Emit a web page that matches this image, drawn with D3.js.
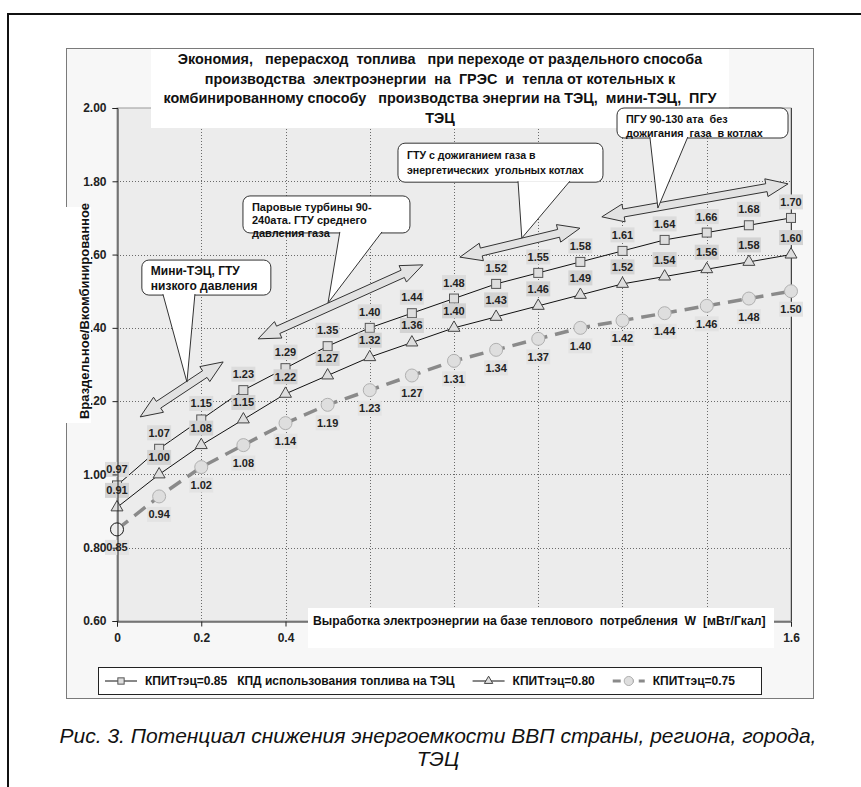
<!DOCTYPE html>
<html>
<head>
<meta charset="utf-8">
<script src="https://cdn.jsdelivr.net/npm/d3@7"></script>
<style>
  body { margin: 0; background: #fff; }
  text { font-family: "Liberation Sans", Arial, sans-serif; }
</style>
</head>
<body>
<script>
// Chart data
var xValues = [0, 0.1, 0.2, 0.3, 0.4, 0.5, 0.6, 0.7, 0.8, 0.9, 1.0, 1.1, 1.2, 1.3, 1.4, 1.5, 1.6];
var kpit85 = [0.97, 1.07, 1.15, 1.23, 1.29, 1.35, 1.40, 1.44, 1.48, 1.52, 1.55, 1.58, 1.61, 1.64, 1.66, 1.68, 1.70];
var kpit80 = [0.91, 1.00, 1.08, 1.15, 1.22, 1.27, 1.32, 1.36, 1.40, 1.43, 1.46, 1.49, 1.52, 1.54, 1.56, 1.58, 1.60];
var kpit75 = [0.85, 0.94, 1.02, 1.08, 1.14, 1.19, 1.23, 1.27, 1.31, 1.34, 1.37, 1.40, 1.42, 1.44, 1.46, 1.48, 1.50];
var seriesNames = ["КПИТтэц=0.85   КПД использования топлива на ТЭЦ", "КПИТтэц=0.80", "КПИТтэц=0.75"];
var yTicks = [0.6, 0.8, 1.0, 1.2, 1.4, 1.6, 1.8, 2.0];
var xTicks = [0, 0.2, 0.4, 0.6, 0.8, 1.0, 1.2, 1.4, 1.6];
var titleLines = [
  "Экономия,   перерасход  топлива   при переходе от раздельного способа",
  "производства  электроэнергии  на  ГРЭС  и  тепла от котельных к",
  "комбинированному способу   производства энергии на ТЭЦ,  мини-ТЭЦ,  ПГУ",
  "ТЭЦ"
];
var yTitle = "Враздельное/Вкомбинированное";
var xTitle = "Выработка электроэнергии на базе теплового  потребления  W  [мВт/Гкал]";
var captionLines = ["Рис. 3. Потенциал снижения энергоемкости ВВП страны, региона, города,", "ТЭЦ"];

// callout notes, anchored in data units (box corner, pointer tip, arrow ends)
var notes = [
  { lines: ["Мини-ТЭЦ, ГТУ", "низкого давления"], box: [0.059, 1.585], w: 129, h: 35, fs: 12, first: 11, step: 15,
    base: [0.109, 0.185], tip: [0.166, 1.252], arrow: [[0.055, 1.157], [0.252, 1.307]] },
  { lines: ["Паровые турбины 90-", "240ата. ГТУ среднего", "давления газа"], box: [0.299, 1.760], w: 167, h: 37, fs: 11, first: 11, step: 13,
    base: [0.529, 0.629], tip: [0.501, 1.468], arrow: [[0.335, 1.370], [0.726, 1.572]] },
  { lines: ["ГТУ с дожиганием газа в", "энергетических  угольных котлах"], box: [0.667, 1.904], w: 205, h: 39, fs: 10.6, first: 12, step: 15,
    base: [0.952, 1.075], tip: [0.961, 1.645], arrow: [[0.814, 1.593], [1.099, 1.672]] },
  { lines: ["ПГУ 90-130 ата  без", "дожигания  газа  в котлах"], box: [1.187, 2.0], w: 171, h: 30, fs: 10.8, first: 11, step: 14,
    base: [1.265, 1.355], tip: [1.284, 1.727], arrow: [[1.151, 1.703], [1.593, 1.793]] }
];

var W = 861, H = 787;
var plot = { left: 117, right: 791, top: 108, bottom: 621 };

var svg = d3.select("body").append("svg")
  .attr("width", W)
  .attr("height", H);

svg.append("rect").attr("width", W).attr("height", H).attr("fill", "#fff");

// outer frame (runs off the right and bottom edge)
svg.append("rect")
  .attr("x", 8).attr("y", 14).attr("width", 900).attr("height", 900)
  .attr("fill", "none").attr("stroke", "#111").attr("stroke-width", 2);

// chart area
svg.append("rect")
  .attr("x", 66.5).attr("y", 48.5).attr("width", 747).attr("height", 650)
  .attr("fill", "#f7f7f7").attr("stroke", "#7a7a7a");

var x = d3.scaleLinear().domain([0, 1.6]).range([plot.left, plot.right]);
var y = d3.scaleLinear().domain([0.6, 2.0]).range([plot.bottom, plot.top]);

// plot area
svg.append("rect")
  .attr("x", plot.left).attr("y", plot.top)
  .attr("width", plot.right - plot.left).attr("height", plot.bottom - plot.top)
  .attr("fill", "#ececec").attr("stroke", "#9a9a9a");

// gridlines
var grid = svg.append("g").attr("stroke", "#6a6a6a").attr("stroke-dasharray", "1,2").attr("stroke-width", 1);
grid.selectAll(".hg")
  .data(yTicks.filter(function(d) { return d > 0.6 && d < 2.0; }))
  .enter().append("line")
  .attr("x1", plot.left).attr("x2", plot.right)
  .attr("y1", function(d) { return Math.round(y(d)) + 0.5; })
  .attr("y2", function(d) { return Math.round(y(d)) + 0.5; });
grid.selectAll(".vg")
  .data(xTicks.filter(function(d) { return d > 0 && d < 1.6; }))
  .enter().append("line")
  .attr("y1", plot.top).attr("y2", plot.bottom)
  .attr("x1", function(d) { return Math.round(x(d)) + 0.5; })
  .attr("x2", function(d) { return Math.round(x(d)) + 0.5; });

// right border of the plot
svg.append("line")
  .attr("x1", plot.right + 0.5).attr("x2", plot.right + 0.5)
  .attr("y1", plot.top).attr("y2", plot.bottom)
  .attr("stroke", "#444");

var series = [
  { values: kpit85, marker: "square", dash: null, color: "#111", width: 1, lab: -16, labBg: "#dcdcdc" },
  { values: kpit80, marker: "triangle", dash: null, color: "#111", width: 1, lab: -17, labBg: "#d3d3d3" },
  { values: kpit75, marker: "circle", dash: "14,8", color: "#8a8a8a", width: 3.5, lab: 18, labBg: "#e3e3e3" }
];

var line = d3.line()
  .x(function(d, i) { return x(xValues[i]); })
  .y(function(d) { return y(d); });

function drawMarker(g, type, s) {
  if (type == "square") {
    g.append("rect").attr("x", -4.5 * s).attr("y", -4.5 * s).attr("width", 9 * s).attr("height", 9 * s)
      .attr("fill", "#dedede").attr("stroke", "#555");
  } else if (type == "triangle") {
    g.append("path").attr("d", d3.symbol().type(d3.symbolTriangle).size(62 * s * s)())
      .attr("fill", "#dedede").attr("stroke", "#444");
  } else {
    g.append("circle").attr("r", 6.5 * s).attr("fill", "#dedede").attr("stroke", "#b0b0b0");
  }
}

series.forEach(function(s) {
  svg.append("path")
    .datum(s.values)
    .attr("d", line)
    .attr("fill", "none")
    .attr("stroke", s.color)
    .attr("stroke-width", s.width)
    .attr("stroke-dasharray", s.dash);

  var pts = svg.append("g").selectAll("g")
    .data(s.values)
    .enter().append("g")
    .attr("transform", function(d, i) { return "translate(" + x(xValues[i]) + "," + y(d) + ")"; });
  pts.each(function() { drawMarker(d3.select(this), s.marker, 1); });
});

// the first circle is drawn with a dark outline in the source
svg.append("circle")
  .attr("cx", x(xValues[0])).attr("cy", y(kpit75[0])).attr("r", 6.5)
  .attr("fill", "#eeeeee").attr("stroke", "#222");

// value labels
series.forEach(function(s) {
  var lab = svg.append("g").selectAll("g")
    .data(s.values)
    .enter().append("g")
    .attr("transform", function(d, i) { return "translate(" + x(xValues[i]) + "," + (y(d) + s.lab) + ")"; });
  lab.append("rect")
    .attr("x", -12).attr("y", -7.5).attr("width", 24).attr("height", 15)
    .attr("fill", s.labBg);
  lab.append("text")
    .attr("text-anchor", "middle")
    .attr("dy", "0.36em")
    .attr("font-size", 11)
    .attr("font-weight", "bold")
    .attr("fill", "#222")
    .text(function(d) { return d3.format(".2f")(d); });
});

// axes
var yAxis = d3.axisLeft(y).tickValues(yTicks).tickFormat(d3.format(".2f")).tickSize(5).tickPadding(6);
var xAxis = d3.axisBottom(x).tickValues(xTicks).tickFormat(d3.format("")).tickSize(5).tickPadding(7);

var gy = svg.append("g").attr("transform", "translate(" + (plot.left + 0.5) + ",0)").call(yAxis);
var gx = svg.append("g").attr("transform", "translate(0," + (plot.bottom + 0.5) + ")").call(xAxis);
[gy, gx].forEach(function(g) {
  g.select(".domain").attr("stroke", "#222");
  g.selectAll(".tick line").attr("stroke", "#222");
  g.selectAll("text").attr("font-size", 12).attr("font-weight", "bold").attr("fill", "#222")
    .attr("font-family", "Liberation Sans, Arial, sans-serif");
});

// title
svg.append("rect").attr("x", 151).attr("y", 49).attr("width", 578).attr("height", 79).attr("fill", "#fff");
svg.append("g").selectAll("text")
  .data(titleLines)
  .enter().append("text")
  .attr("x", 440)
  .attr("y", function(d, i) { return 64 + i * 19.5; })
  .attr("text-anchor", "middle")
  .attr("font-size", 14.4)
  .attr("font-weight", "bold")
  .attr("fill", "#111")
  .style("white-space", "pre")
  .text(function(d) { return d; });

// callouts and double arrows
function arrowPath(p1, p2) {
  var dx = p2[0] - p1[0], dy = p2[1] - p1[1];
  var L = Math.sqrt(dx * dx + dy * dy);
  var hl = 22, hw = 9, sw = 4;
  var pts = [[0, 0], [hl, -hw], [hl, -sw], [L - hl, -sw], [L - hl, -hw], [L, 0],
             [L - hl, hw], [L - hl, sw], [hl, sw], [hl, hw]];
  var a = Math.atan2(dy, dx);
  return "M" + pts.map(function(p) {
    return [p1[0] + p[0] * Math.cos(a) - p[1] * Math.sin(a),
            p1[1] + p[0] * Math.sin(a) + p[1] * Math.cos(a)].join(",");
  }).join("L") + "Z";
}

notes.forEach(function(n) {
  var a1 = [x(n.arrow[0][0]), y(n.arrow[0][1])];
  var a2 = [x(n.arrow[1][0]), y(n.arrow[1][1])];
  svg.append("path").attr("d", arrowPath(a1, a2))
    .attr("fill", "#e2e2e2").attr("stroke", "#333").attr("stroke-width", 1);
});

notes.forEach(function(n) {
  var bx = x(n.box[0]), by = y(n.box[1]);
  var g = svg.append("g");
  g.append("rect")
    .attr("x", bx).attr("y", by).attr("width", n.w).attr("height", n.h)
    .attr("rx", 7).attr("fill", "#fff").attr("stroke", "#333");
  var bottom = by + n.h - 1;
  g.append("path")
    .attr("d", "M" + x(n.base[0]) + "," + bottom + "L" + x(n.tip[0]) + "," + y(n.tip[1]) + "L" + x(n.base[1]) + "," + bottom)
    .attr("fill", "#fff").attr("stroke", "#333");
  g.selectAll("text")
    .data(n.lines)
    .enter().append("text")
    .attr("x", bx + 9)
    .attr("y", function(d, i) { return by + n.first + i * n.step; })
    .attr("dy", "0.35em")
    .attr("font-size", n.fs)
    .attr("font-weight", "bold")
    .attr("fill", "#111")
    .style("white-space", "pre")
    .text(function(d) { return d; });
});

// y axis title
svg.append("rect").attr("x", 62).attr("y", 207).attr("width", 29).attr("height", 216).attr("fill", "#fff");
svg.append("text")
  .attr("transform", "translate(84,311) rotate(-90)")
  .attr("text-anchor", "middle")
  .attr("dy", "0.35em")
  .attr("font-size", 13)
  .attr("font-weight", "bold")
  .attr("fill", "#111")
  .text(yTitle);

// x axis title
svg.append("rect").attr("x", 308).attr("y", 608).attr("width", 466).attr("height", 40).attr("fill", "#fff");
svg.append("text")
  .attr("x", 313).attr("y", 621)
  .attr("dy", "0.35em")
  .attr("font-size", 12.2)
  .attr("font-weight", "bold")
  .attr("fill", "#111")
  .style("white-space", "pre")
  .text(xTitle);

// legend
var legend = svg.append("g");
legend.append("rect")
  .attr("x", 98.5).attr("y", 667.5).attr("width", 663).attr("height", 27)
  .attr("fill", "#fff").attr("stroke", "#222");
var lx = 105;
series.forEach(function(s, i) {
  var g = legend.append("g").attr("transform", "translate(" + lx + ",681)");
  g.append("line").attr("x1", 0).attr("x2", 32)
    .attr("stroke", s.color).attr("stroke-width", s.width == 1 ? 1 : 3)
    .attr("stroke-dasharray", s.dash ? "8,5" : null);
  var m = g.append("g").attr("transform", "translate(16,0)");
  drawMarker(m, s.marker, 0.7);
  var t = g.append("text")
    .attr("x", 40).attr("dy", "0.35em")
    .attr("font-size", 12).attr("font-weight", "bold").attr("fill", "#111")
    .style("white-space", "pre")
    .text(seriesNames[i]);
  lx += 40 + t.node().getComputedTextLength() + 18;
});

// caption
svg.append("g").selectAll("text")
  .data(captionLines)
  .enter().append("text")
  .attr("x", 438)
  .attr("y", function(d, i) { return 743 + i * 23; })
  .attr("text-anchor", "middle")
  .attr("font-size", 21)
  .attr("font-style", "italic")
  .attr("fill", "#111")
  .text(function(d) { return d; });
</script>
</body>
</html>
